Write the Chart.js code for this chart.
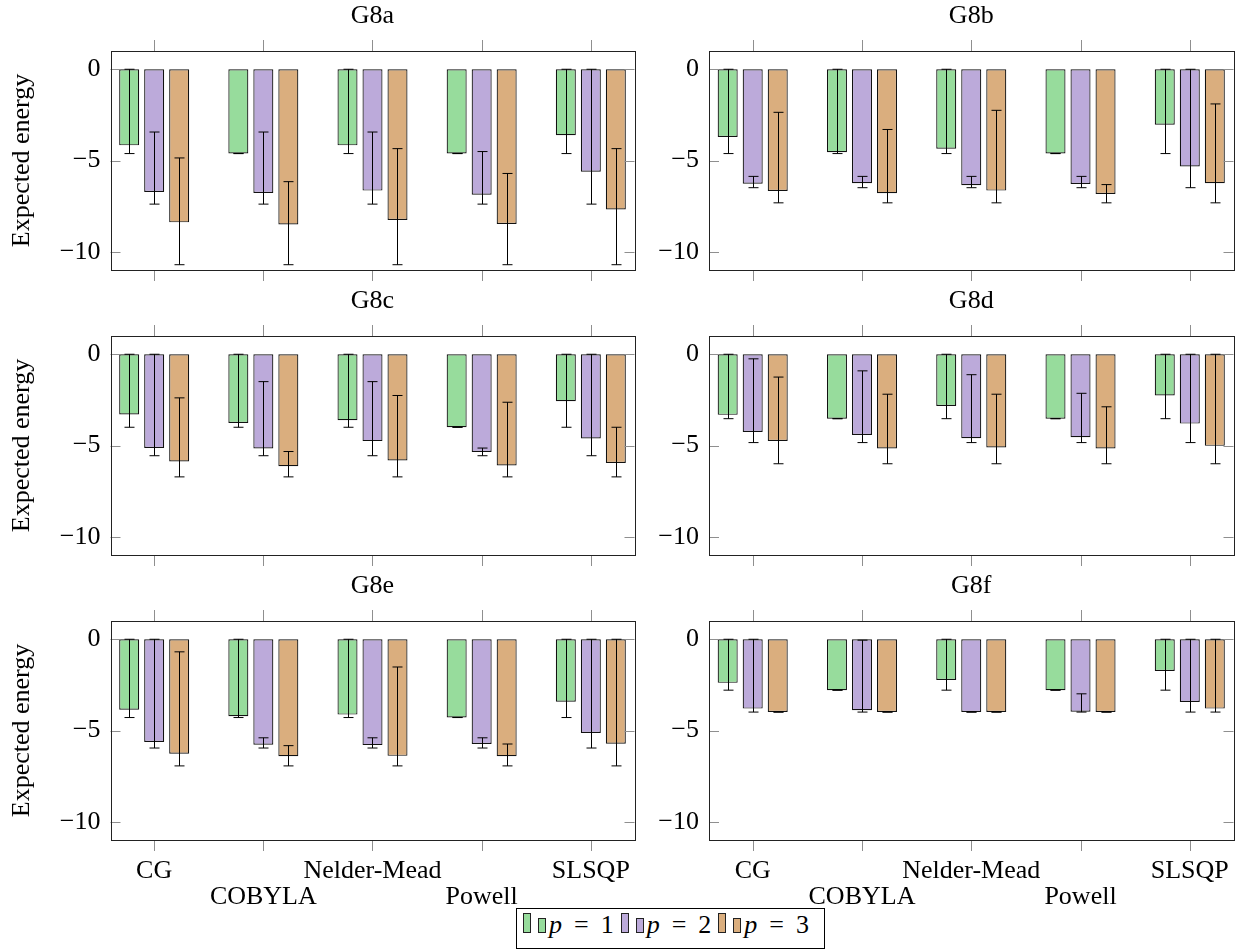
<!DOCTYPE html>
<html>
<head>
<meta charset="utf-8">
<script src="https://cdn.jsdelivr.net/npm/chart.js@4.4.1/dist/chart.umd.min.js"></script>
<style>
  body { margin: 0; background: #fff; }
  #page { position: relative; width: 1236px; height: 951px; overflow: hidden; font-family: 'Liberation Serif', serif; }
  canvas { position: absolute; }
  #legend {
    position: absolute; left: 516px; top: 908px; width: 309px; height: 41px;
    box-sizing: border-box; border: 1px solid #000; background: #fff;
    padding: 2.5px 0 0 6px; font-size: 26px; line-height: 26px; white-space: nowrap;
  }
  #legend .bar { display: inline-block; width: 6px; border: 1px solid #222; vertical-align: baseline; }
  #legend .tall { height: 18px; margin-right: 7px; }
  #legend .short { height: 13px; margin-right: 3px; }
  #legend .txt { display: inline-block; margin-right: 7px; }
  #legend .eq { margin: 0 12px; }
</style>
</head>
<body>
<div id="page"></div>
<script>

const methods = ['CG', 'COBYLA', 'Nelder-Mead', 'Powell', 'SLSQP'];
const pValues = [1, 2, 3];
const panelNames = ['G8a', 'G8b', 'G8c', 'G8d', 'G8e', 'G8f'];
const yTicks = [-10, -5, 0];
const barColors = ['#97dc9c', '#bcaada', '#daae7e'];

// bar values, one row per p
const g8aMean = [[-4.17, -4.62, -4.17, -4.62, -3.61], [-6.72, -6.78, -6.65, -6.87, -5.62], [-8.39, -8.51, -8.26, -8.48, -7.68]];
const g8aLow  = [[-4.62, -4.62, -4.62, -4.62, -4.62], [-7.39, -7.39, -7.39, -7.39, -7.39], [-10.71, -10.71, -10.71, -10.71, -10.71]];
const g8aHigh = [[0, -4.62, 0, -4.62, 0], [-3.44, -3.44, -3.44, -4.51, 0], [-4.86, -6.16, -4.35, -5.71, -4.35]];

const g8bMean = [[-3.71, -4.55, -4.35, -4.62, -3.04], [-6.27, -6.25, -6.36, -6.29, -5.33], [-6.67, -6.79, -6.65, -6.83, -6.25]];
const g8bLow  = [[-4.62, -4.62, -4.62, -4.62, -4.62], [-6.49, -6.49, -6.49, -6.49, -6.49], [-7.32, -7.32, -7.32, -7.32, -7.32]];
const g8bHigh = [[0, 0, 0, -4.62, 0], [-5.87, -5.87, -5.87, -5.87, 0], [-2.36, -3.30, -2.25, -6.32, -1.90]];

const g8cMean = [[-3.30, -3.77, -3.62, -4.00, -2.57], [-5.14, -5.16, -4.76, -5.36, -4.62], [-5.87, -6.14, -5.82, -6.09, -5.96]];
const g8cLow  = [[-4.00, -4.00, -4.00, -4.00, -4.00], [-5.56, -5.56, -5.56, -5.56, -5.56], [-6.72, -6.72, -6.72, -6.72, -6.72]];
const g8cHigh = [[0, 0, 0, -4.00, 0], [0, -1.50, -1.50, -5.14, 0], [-2.39, -5.33, -2.26, -2.63, -4.00]];

const g8dMean = [[-3.32, -3.53, -2.83, -3.53, -2.26], [-4.26, -4.42, -4.60, -4.55, -3.80], [-4.75, -5.16, -5.11, -5.16, -5.02]];
const g8dLow  = [[-3.53, -3.53, -3.53, -3.53, -3.53], [-4.84, -4.84, -4.84, -4.84, -4.84], [-6.00, -6.00, -6.00, -6.00, -6.00]];
const g8dHigh = [[0, -3.53, 0, -3.53, 0], [-0.25, -0.91, -1.12, -2.14, 0], [-1.25, -2.19, -2.19, -2.88, 0]];

const g8eMean = [[-3.86, -4.22, -4.13, -4.29, -3.42], [-5.63, -5.78, -5.80, -5.74, -5.14], [-6.27, -6.41, -6.39, -6.41, -5.72]];
const g8eLow  = [[-4.29, -4.29, -4.29, -4.29, -4.29], [-5.96, -5.96, -5.96, -5.96, -5.96], [-6.94, -6.94, -6.94, -6.94, -6.94]];
const g8eHigh = [[0, 0, 0, -4.29, 0], [0, -5.40, -5.40, -5.40, 0], [-0.69, -5.83, -1.52, -5.74, 0]];

const g8fMean = [[-2.39, -2.79, -2.23, -2.79, -1.74], [-3.80, -3.89, -3.99, -3.97, -3.44], [-3.99, -3.99, -3.99, -3.99, -3.80]];
const g8fLow  = [[-2.79, -2.79, -2.79, -2.79, -2.79], [-3.99, -3.99, -3.99, -3.99, -3.99], [-3.99, -3.99, -3.99, -3.99, -3.99]];
const g8fHigh = [[0, -2.79, 0, -2.79, 0], [0, -0.05, -3.99, -2.99, 0], [-3.99, -3.99, -3.99, -3.99, 0]];

const panelData = [
    [g8aMean, g8aLow, g8aHigh], [g8bMean, g8bLow, g8bHigh],
    [g8cMean, g8cLow, g8cHigh], [g8dMean, g8dLow, g8dHigh],
    [g8eMean, g8eLow, g8eHigh], [g8fMean, g8fLow, g8fHigh]
];

Chart.defaults.font.family = "'Liberation Serif', serif";
Chart.defaults.color = '#000';

const page = document.getElementById('page');

// min/max whiskers on every bar
const errorBarPlugin = {
    id: 'errorBars',
    afterDatasetsDraw(chart) {
        const ctx = chart.ctx;
        const y = chart.scales.y;
        ctx.save();
        ctx.strokeStyle = '#000';
        ctx.lineWidth = 1;
        chart.data.datasets.forEach((ds, di) => {
            chart.getDatasetMeta(di).data.forEach((bar, i) => {
                const px = Math.round(bar.x) + 0.5;
                const top = y.getPixelForValue(ds.errHigh[i]);
                const bot = y.getPixelForValue(ds.errLow[i]);
                ctx.beginPath();
                ctx.moveTo(px, top); ctx.lineTo(px, bot);
                ctx.moveTo(px - 5, top); ctx.lineTo(px + 5, top);
                ctx.moveTo(px - 5, bot); ctx.lineTo(px + 5, bot);
                ctx.stroke();
            });
        });
        ctx.restore();
    }
};

// axis box plus tick marks on all four sides
const framePlugin = {
    id: 'frame',
    afterDraw(chart) {
        const ctx = chart.ctx;
        const a = chart.chartArea;
        const x = chart.scales.x, y = chart.scales.y;
        ctx.save();
        ctx.strokeStyle = '#8f8f8f';
        ctx.lineWidth = 1;
        ctx.beginPath();
        x.ticks.forEach(t => {
            const px = Math.round(x.getPixelForValue(t.value)) + 0.5;
            ctx.moveTo(px, a.top - 11); ctx.lineTo(px, a.top);
            ctx.moveTo(px, a.bottom); ctx.lineTo(px, a.bottom + 11);
        });
        y.ticks.forEach(t => {
            const py = Math.round(y.getPixelForValue(t.value)) + 0.5;
            ctx.moveTo(a.left, py); ctx.lineTo(a.left + 10, py);
            ctx.moveTo(a.right - 10, py); ctx.lineTo(a.right, py);
        });
        ctx.stroke();
        ctx.strokeStyle = '#222';
        ctx.strokeRect(Math.round(a.left) + 0.5, Math.round(a.top) + 0.5,
            Math.round(a.right - a.left), Math.round(a.bottom - a.top));
        ctx.restore();
    }
};

function drawPanel(k) {
    const col = k % 2, row = Math.floor(k / 2);
    const isLeft = col === 0, isBottom = row === 2;
    const cw = isLeft ? 650 : 586;
    const ch = isBottom ? 381 : 285;

    const canvas = document.createElement('canvas');
    canvas.width = cw;
    canvas.height = ch;
    canvas.style.left = (isLeft ? 0 : 650) + 'px';
    canvas.style.top = (row * 285) + 'px';
    page.appendChild(canvas);

    const [means, lows, highs] = panelData[k];

    new Chart(canvas, {
        type: 'bar',
        data: {
            datasets: pValues.map((p, s) => ({
                label: 'p = ' + p,
                data: means[s].map((v, i) => ({ x: i, y: v })),
                errLow: lows[s],
                errHigh: highs[s],
                backgroundColor: barColors[s],
                borderColor: '#111',
                borderWidth: 1.2,
                borderSkipped: false,
                categoryPercentage: 0.687,
                barPercentage: 0.8
            }))
        },
        options: {
            responsive: false,
            animation: false,
            devicePixelRatio: 1,
            layout: { padding: { left: 0, right: isLeft ? 15.5 : 2.5, top: 0, bottom: 0 } },
            plugins: {
                legend: { display: false },
                tooltip: { enabled: false },
                title: {
                    display: true, text: panelNames[k], fullSize: false,
                    font: { size: 26, lineHeight: 1.2, weight: 'normal' },
                    padding: { top: 1, bottom: 18.8 }
                }
            },
            scales: {
                x: {
                    type: 'linear', min: -0.4, max: 4.4, offset: false,
                    grid: { display: false, drawTicks: false },
                    border: { display: false },
                    afterBuildTicks: s => { s.ticks = methods.map((m, i) => ({ value: i })); },
                    afterFit: s => { s.height = ch - 270; s.paddingLeft = 0; s.paddingRight = 0; },
                    ticks: {
                        display: isBottom, autoSkip: false, maxRotation: 0, minRotation: 0,
                        padding: 17.5, font: { size: 26, lineHeight: 1.02 },
                        callback: v => {
                            const i = Math.round(v);
                            return i % 2 ? ['', methods[i]] : methods[i];
                        }
                    }
                },
                y: {
                    min: -11, max: 1,
                    grid: { display: false, drawTicks: false },
                    border: { display: false },
                    afterBuildTicks: s => { s.ticks = yTicks.map(v => ({ value: v })); },
                    afterFit: s => { s.width = isLeft ? 110.5 : 59; s.paddingTop = 0; s.paddingBottom = 0; },
                    ticks: {
                        padding: 10, font: { size: 26 },
                        callback: v => v < 0 ? '\u2212' + (-v) : String(v)
                    },
                    title: {
                        display: isLeft, text: 'Expected energy',
                        font: { size: 26, lineHeight: 1.2 },
                        padding: { top: 6.4, bottom: 0 }
                    }
                }
            }
        },
        plugins: [errorBarPlugin, framePlugin]
    });
}

panelNames.forEach((n, k) => drawPanel(k));

// legend in the pgfplots style: two small bars before each entry
const legend = document.createElement('div');
legend.id = 'legend';
let html = '';
pValues.forEach((p, s) => {
    const c = barColors[s];
    html += '<span class="bar tall" style="background:' + c + '"></span>'
        + '<span class="bar short" style="background:' + c + '"></span>'
        + '<span class="txt"><i>p</i><span class="eq">=</span>' + p + '</span>';
});
legend.innerHTML = html;
page.appendChild(legend);
</script>
</body>
</html>
